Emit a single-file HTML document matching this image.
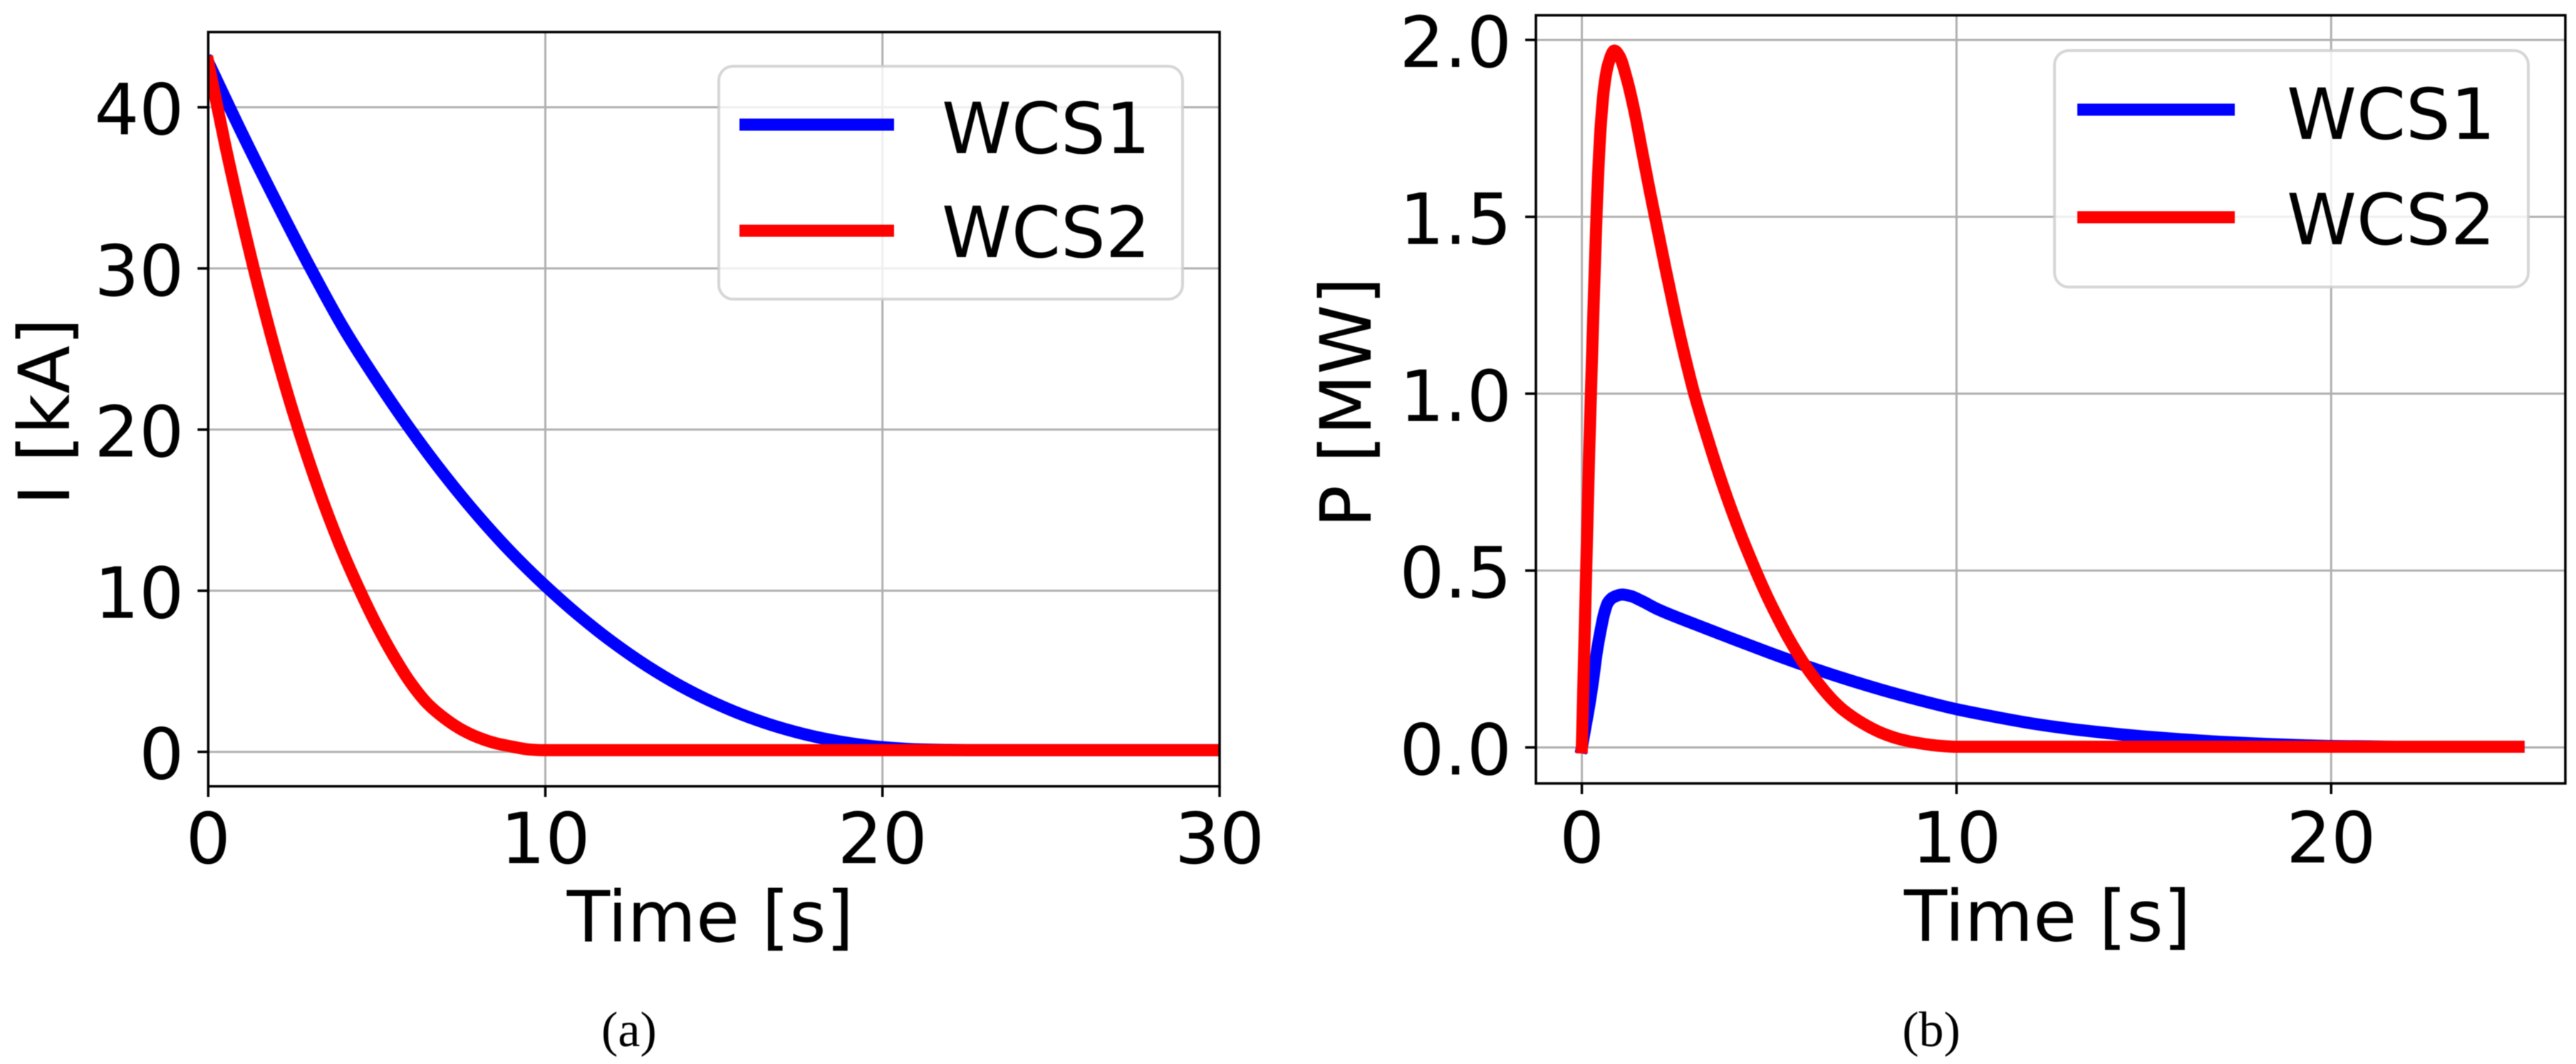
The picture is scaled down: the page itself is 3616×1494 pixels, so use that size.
<!DOCTYPE html>
<html lang="en">
<head>
<meta charset="utf-8">
<title>WCS current and power decay</title>
<style>
html,body{margin:0;padding:0;background:#fff;width:3616px;height:1494px;overflow:hidden}
svg{display:block;filter:blur(0.6px)}
text{font-family:"DejaVu Sans","Liberation Sans",sans-serif;fill:#000}
.caption{font-family:"Liberation Serif",serif}
</style>
</head>
<body>
<svg id="figure" xmlns="http://www.w3.org/2000/svg" width="3616" height="1494" viewBox="0 0 3616 1494"></svg>
<script>
// Panel (a): current
const currentTimeWcs1 = [0,1,2,3,4,5,6,7,8,9,10,11,12,13,14,15,16,17,18,19,20,21,22,23,30];
const currentWcs1 = [42.8,38.4,34.2,30.15,26.35,23.05,20,17.2,14.65,12.35,10.3,8.45,6.8,5.35,4.1,3.05,2.18,1.48,0.94,0.55,0.29,0.16,0.12,0.1,0.1];
const currentTimeWcs2 = [0,0.5,1,1.5,2,2.5,3,3.5,4,4.5,5,5.5,6,6.5,7,7.5,8,8.5,9,9.5,10,30];
const currentWcs2 = [42.8,37.7,33.05,28.75,24.8,21.2,17.95,15,12.35,10,7.85,5.95,4.3,3,2.1,1.4,0.9,0.55,0.33,0.15,0.1,0.1];
const currentXTicks = [0,10,20,30];
const currentYTicks = [0,10,20,30,40];
const currentYTickLabels = ["0","10","20","30","40"];
// Panel (b): power
const powerTimeWcs1 = [0,0.1,0.2,0.3,0.4,0.5,0.6,0.7,0.85,1.08,1.3,1.6,2,3,4,5,6,7,8,9,10,11,12,13,14,15,16,17,18,19,20,21,22,25];
const powerWcs1 = [0,0.06,0.12,0.19,0.27,0.33,0.38,0.41,0.425,0.432,0.428,0.414,0.392,0.349,0.308,0.268,0.23,0.195,0.163,0.134,0.108,0.087,0.068,0.053,0.041,0.031,0.023,0.016,0.011,0.007,0.004,0.003,0.002,0.002];
const powerTimeWcs2 = [0,0.1,0.2,0.3,0.4,0.5,0.6,0.7,0.87,1,1.2,1.4,1.6,1.8,2,2.25,2.5,2.75,3,3.25,3.5,3.75,4,4.25,4.5,4.75,5,5.25,5.5,5.75,6,6.25,6.5,6.75,7,7.5,8,8.5,9,9.5,10,25];
const powerWcs2 = [0,0.43,0.85,1.2,1.53,1.75,1.87,1.93,1.97,1.955,1.89,1.8,1.69,1.58,1.475,1.345,1.22,1.105,1,0.91,0.825,0.745,0.67,0.6,0.535,0.473,0.415,0.362,0.312,0.267,0.226,0.19,0.157,0.128,0.104,0.068,0.041,0.023,0.012,0.005,0.002,0.002];
const powerXTicks = [0,10,20];
const powerYTicks = [0,0.5,1,1.5,2];
const powerYTickLabels = ["0.0","0.5","1.0","1.5","2.0"];
const seriesNames = ["WCS1","WCS2"];
const seriesColors = ["#0000ff","#ff0000"];

const svg = document.getElementById('figure');
const NS = 'http://www.w3.org/2000/svg';
function make(tag, attrs, parent) {
  const el = document.createElementNS(NS, tag);
  for (const k in attrs) el.setAttribute(k, attrs[k]);
  (parent || svg).appendChild(el);
  return el;
}
function linear(d0, d1, p0, p1) {
  return v => p0 + (v - d0) * (p1 - p0) / (d1 - d0);
}
// Monotone cubic path through the projected data points (no overshoot).
function monotonePath(xs, ys) {
  const n = xs.length;
  const dx = [], s = [], m = new Array(n);
  for (let i = 0; i < n - 1; i++) {
    dx[i] = xs[i + 1] - xs[i];
    s[i] = (ys[i + 1] - ys[i]) / dx[i];
  }
  m[0] = s[0];
  m[n - 1] = s[n - 2];
  for (let i = 1; i < n - 1; i++) {
    if (s[i - 1] * s[i] <= 0) { m[i] = 0; continue; }
    const w1 = 2 * dx[i] + dx[i - 1], w2 = dx[i] + 2 * dx[i - 1];
    m[i] = (w1 + w2) / (w1 / s[i - 1] + w2 / s[i]);
  }
  let d = 'M' + xs[0].toFixed(2) + ' ' + ys[0].toFixed(2);
  for (let i = 0; i < n - 1; i++) {
    const h = dx[i] / 3;
    d += 'C' + (xs[i] + h).toFixed(2) + ' ' + (ys[i] + m[i] * h).toFixed(2) + ' ' +
         (xs[i + 1] - h).toFixed(2) + ' ' + (ys[i + 1] - m[i + 1] * h).toFixed(2) + ' ' +
         xs[i + 1].toFixed(2) + ' ' + ys[i + 1].toFixed(2);
  }
  return d;
}

function drawPanel(cfg) {
  const g = make('g', {});
  
  
  const x = linear(cfg.xDomain[0], cfg.xDomain[1], cfg.left, cfg.right);
  const y = linear(cfg.yDomain[0], cfg.yDomain[1], cfg.bottom, cfg.top);

  const clipId = cfg.id + '-clip';
  const defs = make('defs', {}, g);
  const clip = make('clipPath', {id: clipId}, defs);
  make('rect', {x: cfg.left, y: cfg.top, width: cfg.right - cfg.left, height: cfg.bottom - cfg.top}, clip);

  // grid
  cfg.xTicks.forEach(t => {
    const gl = make('line', {x1: x(t), x2: x(t), y1: cfg.top, y2: cfg.bottom, stroke: '#b0b0b0', 'stroke-width': 3}, g);
    
    
  });
  cfg.yTicks.forEach(v => {
    const gl = make('line', {x1: cfg.left, x2: cfg.right, y1: y(v), y2: y(v), stroke: '#b0b0b0', 'stroke-width': 3}, g);
    
    
  });

  // series
  cfg.series.forEach((s, i) => {
    const d = monotonePath(s.t.map(t => x(t)), s.v.map(v => y(v)));
    const line = make('path', {d: d, fill: 'none', stroke: seriesColors[i], 'stroke-width': 17,
      'stroke-linejoin': 'round', 'stroke-linecap': 'square', 'clip-path': 'url(#' + clipId + ')'}, g);
    
    
  });

  // spines
  const spine = make('rect', {x: cfg.left, y: cfg.top, width: cfg.right - cfg.left, height: cfg.bottom - cfg.top,
    fill: 'none', stroke: '#000', 'stroke-width': 3.5}, g);
  
  

  // x ticks
  cfg.xTicks.forEach(t => {
    const tick = make('line', {x1: x(t), x2: x(t), y1: cfg.bottom, y2: cfg.bottom + 15, stroke: '#000', 'stroke-width': 3.5}, g);
    
    
    const lab = make('text', {x: x(t), y: cfg.xTickBaseline, 'text-anchor': 'middle', 'font-size': cfg.fontSize}, g);
    lab.textContent = String(t);
    
    
  });
  // y ticks
  cfg.yTicks.forEach((v, i) => {
    const tick = make('line', {x1: cfg.left - 15, x2: cfg.left, y1: y(v), y2: y(v), stroke: '#000', 'stroke-width': 3.5}, g);
    
    
    const lab = make('text', {x: cfg.left - 34, y: y(v) + 38, 'text-anchor': 'end', 'font-size': cfg.fontSize}, g);
    lab.textContent = cfg.yTickLabels[i];
    
    
  });

  // axis titles
  const xt = make('text', {x: cfg.xTitleX, y: cfg.xTitleBaseline, 'text-anchor': 'middle', 'font-size': cfg.fontSize}, g);
  xt.textContent = 'Time [s]';
  
  
  const yt = make('text', {x: 0, y: 0, 'text-anchor': 'middle', 'font-size': cfg.fontSize,
    transform: 'translate(' + cfg.yTitleX + ' ' + cfg.yTitleY + ') rotate(-90)'}, g);
  yt.textContent = cfg.yTitle;
  
  

  // legend
  const leg = make('g', {}, g);
  
  
  const L = cfg.legend;
  const frame = make('rect', {x: L.x, y: L.y, width: L.w, height: L.h, rx: 20, ry: 20,
    fill: '#fff', 'fill-opacity': 0.8, stroke: '#cccccc', 'stroke-opacity': 0.8, 'stroke-width': 4}, leg);
  
  
  seriesNames.forEach((name, i) => {
    const h = make('line', {x1: L.lineX1, x2: L.lineX2, y1: L.lineY[i], y2: L.lineY[i], stroke: seriesColors[i], 'stroke-width': 17}, leg);
    
    
    const t = make('text', {x: L.textX, y: L.textY[i], 'font-size': cfg.fontSize}, leg);
    t.textContent = name;
    
    
  });

  // caption
  const c = make('text', {x: cfg.captionX, y: 1469, 'text-anchor': 'middle', 'font-size': 70, class: 'caption'}, g);
  c.textContent = cfg.caption;
  
  
}

drawPanel({
  id: 'current', left: 292.3, right: 1712, top: 45, bottom: 1104,
  xDomain: [0, 30], yDomain: [-2.135, 44.67],
  xTicks: currentXTicks, yTicks: currentYTicks, yTickLabels: currentYTickLabels,
  series: [{t: currentTimeWcs1, v: currentWcs1}, {t: currentTimeWcs2, v: currentWcs2}],
  fontSize: 99, xTickBaseline: 1212, xTitleX: 997, xTitleBaseline: 1322,
  yTitle: 'I [kA]', yTitleX: 97, yTitleY: 578,
  legend: {x: 1009, y: 93, w: 651, h: 327, lineX1: 1038, lineX2: 1255, lineY: [175, 324], textX: 1322, textY: [215, 361]},
  caption: '(a)', captionX: 883
});
drawPanel({
  id: 'power', left: 2156, right: 3601, top: 21.5, bottom: 1100,
  xDomain: [-1.226, 26.25], yDomain: [-0.1017, 2.0696],
  xTicks: powerXTicks, yTicks: powerYTicks, yTickLabels: powerYTickLabels,
  series: [{t: powerTimeWcs1, v: powerWcs1}, {t: powerTimeWcs2, v: powerWcs2}],
  fontSize: 99, xTickBaseline: 1211, xTitleX: 2874, xTitleBaseline: 1321,
  yTitle: 'P [MW]', yTitleX: 1924, yTitleY: 565,
  legend: {x: 2884, y: 71, w: 665, h: 332, lineX1: 2916, lineX2: 3137, lineY: [154, 305], textX: 3210, textY: [195, 343]},
  caption: '(b)', captionX: 2711
});
</script>
</body>
</html>
